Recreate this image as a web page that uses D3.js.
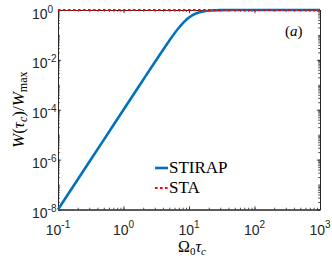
<!DOCTYPE html>
<html>
<head>
<meta charset="utf-8">
<script src="https://cdn.jsdelivr.net/npm/d3@7"></script>
<style>
  html, body { margin: 0; padding: 0; background: #fff; }
  svg { display: block; }
</style>
</head>
<body>
<svg id="chart" width="332" height="259"></svg>
<script>
(function () {
  // values (Omega_0 tau_c vs W/Wmax)
  const omega = [0.1, 0.2, 0.5, 1, 2, 3, 5, 7, 10, 13, 17, 22, 30, 50, 100, 1000];
  const stirap = [1e-8, 1.6e-7, 6.2e-6, 1e-4, 1.6e-3, 8e-3, 0.059, 0.194, 0.5, 0.74, 0.89, 0.96, 0.988, 0.998, 1, 1];
  const staOmega = [0.1, 1000];
  const sta = [1, 1];

  const xTicks = [0.1, 1, 10, 100, 1000];
  const xTickExp = ['-1', '0', '1', '2', '3'];
  const yTicks = [1e-8, 1e-6, 1e-4, 1e-2, 1];
  const yTickExp = ['-8', '-6', '-4', '-2', '0'];

  const sansFont = '"Liberation Sans", Arial, Helvetica, sans-serif';
  const serifFont = '"Liberation Serif", "Times New Roman", "DejaVu Serif", serif';

  const svg = d3.select('#chart');
  const left = 58, right = 320, top = 10, bottom = 209.5;
  const axisColor = '#262626';

  const x = d3.scaleLog().domain([0.1, 1000]).range([left, right]);
  const y = d3.scaleLog().domain([1e-8, 1]).range([bottom, top]);

  function styleAxis(g) {
    g.select('.domain').attr('stroke', axisColor).attr('stroke-width', 1);
    g.selectAll('.tick line').attr('stroke', axisColor).attr('stroke-width', 0.8);
    g.selectAll('.tick text').remove();
  }

  const minorX = x.ticks(20);
  const minorY = y.ticks(20);

  function addAxes(size, xVals, yVals) {
    svg.append('g').attr('transform', 'translate(0,' + bottom + ')')
      .call(d3.axisBottom(x).tickValues(xVals).tickSizeInner(-size).tickSizeOuter(0)).call(styleAxis);
    svg.append('g').attr('transform', 'translate(0,' + top + ')')
      .call(d3.axisTop(x).tickValues(xVals).tickSizeInner(-size).tickSizeOuter(0)).call(styleAxis);
    svg.append('g').attr('transform', 'translate(' + left + ',0)')
      .call(d3.axisLeft(y).tickValues(yVals).tickSizeInner(-size).tickSizeOuter(0)).call(styleAxis);
    svg.append('g').attr('transform', 'translate(' + right + ',0)')
      .call(d3.axisRight(y).tickValues(yVals).tickSizeInner(-size).tickSizeOuter(0)).call(styleAxis);
  }
  addAxes(1.8, minorX, minorY);
  addAxes(3.2, xTicks, yTicks);

  // curves on top of the box
  const line = d3.line()
    .x(function (d) { return x(d[0]); })
    .y(function (d) { return y(d[1]); })
    .curve(d3.curveMonotoneX);

  svg.append('path')
    .datum(d3.zip(omega, stirap))
    .attr('d', line)
    .attr('fill', 'none')
    .attr('stroke', '#0072BD')
    .attr('stroke-width', 2.6);

  svg.append('path')
    .datum(d3.zip(staOmega, sta))
    .attr('d', line)
    .attr('fill', 'none')
    .attr('stroke', '#FF0000')
    .attr('stroke-width', 2.2)
    .attr('stroke-dasharray', '2.6,2.4');

  // tick labels 10^n
  svg.append('g').selectAll('text')
    .data(xTicks)
    .enter()
    .append('text')
    .attr('x', function (d) { return x(d); })
    .attr('y', bottom + 25)
    .attr('text-anchor', 'middle')
    .attr('fill', axisColor)
    .style('font-family', sansFont)
    .style('font-size', '14px')
    .each(function (d, i) {
      const t = d3.select(this);
      t.append('tspan').text('10');
      t.append('tspan').attr('dy', -7).style('font-size', '10px').text(xTickExp[i]);
    });

  svg.append('g').selectAll('text')
    .data(yTicks)
    .enter()
    .append('text')
    .attr('x', 32)
    .attr('y', function (d) { return y(d) + 8.5; })
    .attr('fill', axisColor)
    .style('font-family', sansFont)
    .style('font-size', '14px')
    .each(function (d, i) {
      const t = d3.select(this);
      t.append('tspan').text('10');
      t.append('tspan').attr('dy', -6).style('font-size', '10px').text(yTickExp[i]);
    });

  // axis titles
  const xt = svg.append('text')
    .attr('x', (left + right) / 2 + 3)
    .attr('y', 252)
    .attr('text-anchor', 'middle')
    .style('font-family', serifFont)
    .style('font-size', '16px');
  xt.append('tspan').text('Ω');
  xt.append('tspan').attr('dy', 3).style('font-size', '11px').text('0');
  xt.append('tspan').attr('dy', -3).style('font-style', 'italic').text('τ');
  xt.append('tspan').attr('dy', 3).style('font-size', '11px').style('font-style', 'italic').text('c');

  const yt = svg.append('text')
    .attr('transform', 'translate(24,' + ((top + bottom) / 2) + ') rotate(-90)')
    .attr('text-anchor', 'middle')
    .style('font-family', serifFont)
    .style('font-size', '17px');
  yt.append('tspan').style('font-style', 'italic').text('W');
  yt.append('tspan').text('(');
  yt.append('tspan').style('font-style', 'italic').text('τ');
  yt.append('tspan').attr('dy', 3).style('font-size', '12px').style('font-style', 'italic').text('c');
  yt.append('tspan').attr('dy', -3).text(')/');
  yt.append('tspan').style('font-style', 'italic').text('W');
  yt.append('tspan').attr('dy', 3).style('font-size', '12px').text('max');

  // panel tag
  const tag = svg.append('text')
    .attr('x', 285)
    .attr('y', 36)
    .style('font-family', serifFont)
    .style('font-size', '15px');
  tag.append('tspan').text('(');
  tag.append('tspan').style('font-style', 'italic').text('a');
  tag.append('tspan').text(')');

  // legend
  const legendNames = ['STIRAP', 'STA'];
  const legendColors = ['#0072BD', '#FF0000'];
  const legendWidths = [2.6, 2.2];
  const legendDash = [null, '2.6,2.4'];
  const lg = svg.append('g').attr('transform', 'translate(155,168)');
  legendNames.forEach(function (name, i) {
    lg.append('line')
      .attr('x1', 0).attr('x2', 13)
      .attr('y1', i * 20).attr('y2', i * 20)
      .attr('stroke', legendColors[i])
      .attr('stroke-width', legendWidths[i])
      .attr('stroke-dasharray', legendDash[i]);
    lg.append('text')
      .attr('x', 14)
      .attr('y', i * 20 + 5)
      .style('font-family', serifFont)
      .style('font-size', '17px')
      .text(name);
  });
})();
</script>
</body>
</html>
